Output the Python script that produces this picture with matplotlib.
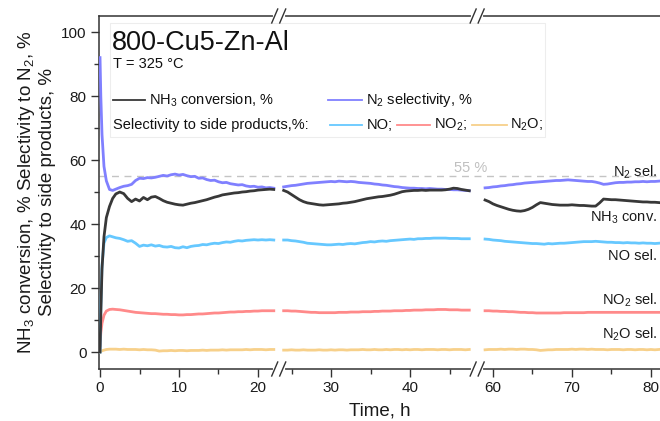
import numpy as np
import matplotlib.pyplot as plt
from matplotlib.patches import Rectangle

plt.rcParams['font.family'] = ['Liberation Sans', 'DejaVu Sans']
plt.rcParams['mathtext.fontset'] = 'custom'
plt.rcParams['mathtext.rm'] = 'Liberation Sans'
plt.rcParams['mathtext.it'] = 'Liberation Sans:italic'
plt.rcParams['mathtext.default'] = 'regular'

# time, h (three measured segments)
t1 = [0, 0.1, 0.25, 0.5, 0.8, 1.2, 1.6, 2.0, 2.5, 3.0, 3.5, 4.0, 4.5, 5.0, 5.5, 6.0,
      6.5, 7.0, 7.5, 8.0, 8.5, 9.0, 9.5, 10.0, 10.5, 11.0, 11.5, 12.0, 12.5, 13.0, 13.5,
      14.0, 14.5, 15.0, 15.5, 16.0, 16.5, 17.0, 17.5, 18.0, 18.5, 19.0, 19.5, 20.0, 20.5,
      21.0, 21.5, 22.0]
t2 = [24.0, 24.5, 25.0, 25.5, 26.0, 26.5, 27.0, 27.5, 28.0, 28.5, 29.0, 29.5, 30.0, 30.5,
      31.0, 31.5, 32.0, 32.5, 33.0, 33.5, 34.0, 34.5, 35.0, 35.5, 36.0, 36.5, 37.0, 37.5,
      38.0, 38.5, 39.0, 39.5, 40.0, 40.5, 41.0, 41.5, 42.0, 42.5, 43.0, 43.5, 44.0, 44.5,
      45.0, 45.5, 46.0, 46.5, 47.0, 47.5]
t3 = [59.0, 59.5, 60.0, 60.5, 61.0, 61.5, 62.0, 62.5, 63.0, 63.5, 64.0, 64.5, 65.0, 65.5,
      66.0, 66.5, 67.0, 67.5, 68.0, 68.5, 69.0, 69.5, 70.0, 70.5, 71.0, 71.5, 72.0, 72.5,
      73.0, 73.5, 74.0, 74.5, 75.0, 75.5, 76.0, 76.5, 77.0, 77.5, 78.0, 78.5, 79.0, 79.5,
      80.0, 80.5, 81.0]

# N2 selectivity, %
n2_1 = [92, 80, 68, 58, 53.5, 50.8, 50.5, 50.9, 51.4, 51.8, 52.0, 52.4, 53.6, 54.3, 54.2,
        54.5, 54.4, 54.6, 54.9, 55.2, 55.0, 55.4, 55.6, 55.3, 55.5, 55.1, 54.8, 54.9, 54.3,
        54.4, 53.9, 53.6, 53.7, 53.2, 52.9, 53.0, 52.6, 52.4, 52.2, 52.3, 51.9, 51.7, 51.8,
        51.5, 51.6, 51.3, 51.4, 51.2]
n2_2 = [51.6, 51.8, 52.0, 52.1, 52.3, 52.5, 52.7, 52.8, 52.9, 53.0, 53.1, 53.2, 53.3, 53.2,
        53.4, 53.3, 53.2, 53.3, 53.2, 53.0, 52.9, 52.8, 52.7, 52.5, 52.4, 52.2, 52.1, 51.9,
        51.7, 51.6, 51.4, 51.3, 51.2, 51.2, 51.1, 51.1, 51.0, 51.1, 51.0, 50.9, 50.9, 50.8,
        50.8, 50.7, 50.7, 50.6, 50.5, 50.4]
n2_3 = [51.3, 51.4, 51.6, 51.7, 51.9, 52.0, 52.2, 52.3, 52.5, 52.6, 52.8, 52.9, 53.0, 53.1,
        53.2, 53.3, 53.4, 53.5, 53.6, 53.6, 53.7, 53.8, 53.7, 53.6, 53.5, 53.4, 53.3, 53.3,
        53.1, 52.8, 52.4, 52.5, 52.7, 52.9, 53.0, 53.0, 53.1, 53.1, 53.2, 53.2, 53.3, 53.2,
        53.3, 53.3, 53.4]

# NH3 conversion, %
nh3_1 = [0, 12, 26, 36, 42, 45.5, 48, 49.4, 50.0, 49.5, 48, 47, 47.8, 47.2, 48.3, 47.6,
         48.4, 48.6, 48.0, 47.3, 46.8, 46.5, 46.2, 46.0, 45.9, 46.2, 46.5, 46.7, 47.0, 47.3,
         47.6, 48.0, 48.4, 48.7, 49.1, 49.3, 49.5, 49.7, 49.8, 50.0, 50.1, 50.3, 50.4, 50.6,
         50.7, 50.8, 50.9, 50.8]
nh3_2 = [50.5, 50.0, 49.2, 48.4, 47.6, 47.0, 46.6, 46.4, 46.2, 46.0, 45.9, 46.0, 46.1, 46.2,
         46.3, 46.5, 46.6, 46.8, 47.0, 47.3, 47.6, 47.9, 48.1, 48.3, 48.5, 48.6, 48.8, 49.0,
         49.3, 49.7, 50.1, 50.3, 50.4, 50.5, 50.5, 50.6, 50.5, 50.6, 50.6, 50.6, 50.6, 50.7,
         50.9, 51.2, 51.1, 50.8, 50.6, 50.4]
nh3_3 = [47.5, 47.0, 46.3, 45.8, 45.4, 45.0, 44.6, 44.3, 44.1, 44.0, 44.2, 44.6, 45.2, 46.0,
         46.7, 46.5, 46.3, 46.1, 46.0, 45.9, 45.9, 45.9, 46.0, 45.9, 45.8, 45.8, 45.7, 45.6,
         45.6, 46.6, 47.8, 47.7, 47.6, 47.6, 47.5, 47.4, 47.3, 47.2, 47.1, 47.0, 46.9, 46.9,
         46.8, 46.8, 46.7]

# NO selectivity, %
no_1 = [0, 14, 27, 34, 35.8, 36.3, 36.0, 35.7, 35.5, 35.1, 34.6, 34.8, 34.0, 33.0, 33.4,
        33.2, 33.5, 33.1, 33.3, 32.9, 32.8, 33.0, 32.6, 32.5, 32.9, 32.6, 33.0, 33.2, 33.3,
        33.6, 33.5, 33.8, 34.0, 33.9, 34.2, 34.4, 34.3, 34.6, 34.8, 34.7, 34.9, 35.0, 35.1,
        35.0, 35.1, 35.0, 35.1, 35.0]
no_2 = [35.0, 35.0, 34.8, 34.7, 34.5, 34.3, 34.0, 33.9, 33.8, 33.7, 33.6, 33.5, 33.5, 33.6,
        33.7, 33.6, 33.8, 33.9, 33.8, 34.0, 34.2, 34.3, 34.5, 34.4, 34.6, 34.7, 34.6, 34.8,
        34.9, 35.0, 35.1, 35.2, 35.3, 35.2, 35.4, 35.4, 35.5, 35.5, 35.6, 35.6, 35.6, 35.6,
        35.5, 35.5, 35.5, 35.4, 35.4, 35.4]
no_3 = [35.3, 35.2, 35.0, 34.9, 34.8, 34.6, 34.5, 34.4, 34.3, 34.2, 34.1, 34.0, 33.9, 33.9,
        33.8, 33.7, 33.9, 33.8, 33.9, 34.0, 34.0, 34.1, 34.2, 34.3, 34.4, 34.5, 34.5, 34.5,
        34.6, 34.5, 34.4, 34.3, 34.3, 34.2, 34.2, 34.1, 34.2, 34.1, 34.1, 34.0, 34.1, 34.0,
        34.0, 33.9, 34.0]

# NO2 selectivity, %
no2_1 = [2, 6, 9, 11.5, 12.8, 13.3, 13.4, 13.3, 13.2, 13.0, 12.8, 12.6, 12.4, 12.3, 12.2,
         12.1, 12.0, 12.0, 11.9, 11.8, 11.8, 11.7, 11.7, 11.6, 11.6, 11.7, 11.7, 11.8, 11.9,
         11.9, 12.0, 12.1, 12.2, 12.2, 12.3, 12.4, 12.5, 12.5, 12.6, 12.6, 12.7, 12.7, 12.8,
         12.8, 12.9, 12.9, 12.9, 12.9]
no2_2 = [12.9, 12.9, 12.8, 12.8, 12.7, 12.6, 12.5, 12.4, 12.4, 12.3, 12.3, 12.3, 12.3, 12.3,
         12.4, 12.4, 12.4, 12.5, 12.5, 12.5, 12.6, 12.6, 12.6, 12.7, 12.7, 12.8, 12.8, 12.8,
         12.9, 12.9, 12.9, 13.0, 13.0, 13.1, 13.1, 13.1, 13.2, 13.2, 13.2, 13.3, 13.3, 13.3,
         13.2, 13.2, 13.2, 13.1, 13.1, 13.1]
no2_3 = [12.9, 12.9, 12.8, 12.8, 12.7, 12.7, 12.6, 12.6, 12.5, 12.4, 12.4, 12.3, 12.3, 12.2,
         12.2, 12.2, 12.2, 12.2, 12.2, 12.2, 12.3, 12.3, 12.3, 12.3, 12.3, 12.3, 12.4, 12.4,
         12.4, 12.4, 12.4, 12.4, 12.4, 12.4, 12.4, 12.4, 12.4, 12.4, 12.4, 12.4, 12.4, 12.4,
         12.4, 12.4, 12.4]

# N2O selectivity, %
n2o_1 = [0.0, 0.2, 0.4, 0.6, 0.8, 0.9, 0.9, 0.9, 0.8, 0.9, 0.8, 0.8, 0.8, 0.7, 0.8, 0.7,
         0.7, 0.6, 0.3, 0.4, 0.4, 0.5, 0.4, 0.5, 0.5, 0.4, 0.5, 0.5, 0.5, 0.6, 0.5, 0.6,
         0.6, 0.6, 0.7, 0.6, 0.7, 0.7, 0.7, 0.7, 0.8, 0.7, 0.8, 0.8, 0.8, 0.7, 0.8, 0.8]
n2o_2 = [0.6, 0.6, 0.7, 0.6, 0.6, 0.7, 0.6, 0.6, 0.6, 0.7, 0.6, 0.6, 0.7, 0.6, 0.7, 0.7,
         0.6, 0.7, 0.7, 0.7, 0.8, 0.7, 0.7, 0.8, 0.7, 0.7, 0.8, 0.7, 0.8, 0.8, 0.7, 0.8,
         0.7, 0.8, 0.8, 0.7, 0.8, 0.8, 0.8, 0.7, 0.8, 0.8, 0.7, 0.8, 0.8, 0.8, 0.7, 0.8]
n2o_3 = [0.7, 0.8, 0.8, 0.8, 0.9, 0.8, 0.9, 0.9, 0.8, 0.9, 0.9, 0.8, 0.8, 0.7, 0.5, 0.6,
         0.7, 0.7, 0.8, 0.8, 0.8, 0.8, 0.9, 0.8, 0.9, 0.9, 0.8, 0.9, 0.8, 0.8, 0.8, 0.7,
         0.8, 0.8, 0.8, 0.7, 0.8, 0.8, 0.7, 0.8, 0.8, 0.7, 0.8, 0.7, 0.8]

x_major = [0, 10, 20, 30, 40, 60, 70, 80]
x_minor = [5, 15, 25, 35, 45, 65, 75]
breaks = [23.0, 53.25]

# broken time axis: gaps 22.5-23.5 and 48-58.5 are squeezed
T_KNOTS = [-50, 22.5, 23.5, 48.0, 58.5, 150]
U_KNOTS = [-50, 22.5, 22.75, 47.25, 48.25, 139.75]


def fwd(t):
    return np.interp(t, T_KNOTS, U_KNOTS)


def inv(u):
    return np.interp(u, U_KNOTS, T_KNOTS)


fig = plt.figure(figsize=(6.6, 4.21), dpi=100)
ax = fig.add_axes([99 / 660, 1 - 369 / 421, 561 / 660, 353 / 421])
ax.set_xscale('function', functions=(fwd, inv))
ax.set_xlim(-0.13, 81.15)
ax.set_ylim(-5.3, 105)


def px(x):
    return (x - 99) / 561


def py(y):
    return (369 - y) / 353


series = [
    ([n2o_1, n2o_2, n2o_3], '#f7d08a'),
    ([no2_1, no2_2, no2_3], '#ff8a8a'),
    ([no_1, no_2, no_3], '#66c8ff'),
    ([n2_1, n2_2, n2_3], '#8080ff'),
    ([nh3_1, nh3_2, nh3_3], '#383838'),
]
for segs, col in series:
    for tt, vv in zip([t1, t2, t3], segs):
        ax.plot(tt, vv, color=col, lw=2.0, solid_joinstyle='round', zorder=3)

ax.axhline(55, color='#c4c4c4', lw=1, ls=(0, (5, 4)), zorder=2)
ax.text(47.7, 57.5, '55 %', color='#c0c0c0', fontsize=10.5, ha='center', va='center')

# right-side labels
right = [(56.2, 'N$_2$ sel.'), (42.0, 'NH$_3$ conv.'), (30.0, 'NO sel.'),
         (16.2, 'NO$_2$ sel.'), (5.6, 'N$_2$O sel.')]
for yv, lab in right:
    ax.text(0.995, yv, lab, transform=ax.get_yaxis_transform(), ha='right',
            va='center', fontsize=10.5, color='#1a1a1a')

# title block and legend
ax.add_patch(Rectangle((px(110), py(137)), px(545) - px(110), py(23) - py(137),
                       transform=ax.transAxes, fill=False, ec='#ededed', lw=0.8))
ax.text(px(112), py(43), '800-Cu5-Zn-Al', transform=ax.transAxes, fontsize=19.5,
        va='center', color='#111111')
ax.text(px(113), py(64), 'T = 325 °C', transform=ax.transAxes, fontsize=10.5,
        va='center', color='#111111')

leg = [
    (113, 145, 149, 100, '#383838', 'NH$_3$ conversion, %'),
    (328, 362, 366, 100, '#8080ff', 'N$_2$ selectivity, %'),
    (330, 362, 367, 125, '#66c8ff', 'NO;'),
    (397, 430, 434, 125, '#ff8a8a', 'NO$_2$;'),
    (472, 507, 510, 125, '#f7d08a', 'N$_2$O;'),
]
for x0, x1, xt, yy, col, lab in leg:
    ax.plot([px(x0), px(x1)], [py(yy), py(yy)], transform=ax.transAxes, color=col, lw=1.3)
    ax.text(px(xt), py(yy), lab, transform=ax.transAxes, fontsize=10.5, va='center',
            color='#111111')
ax.text(px(113), py(125), 'Selectivity to side products,%:', transform=ax.transAxes,
        fontsize=10.5, va='center', color='#111111')

# axes styling
for s in ['left', 'bottom', 'top']:
    ax.spines[s].set_color('#333333')
    ax.spines[s].set_linewidth(1.1)
ax.spines['right'].set_visible(False)

ax.set_xticks(x_major)
ax.set_xticks(x_minor, minor=True)
ax.set_yticks([0, 20, 40, 60, 80, 100])
ax.set_yticks([10, 30, 50, 70, 90], minor=True)
ax.tick_params(which='both', direction='out', color='#333333', width=1,
               labelsize=11, labelcolor='#1a1a1a', pad=3, top=False, right=False)
ax.tick_params(which='major', length=6)
ax.tick_params(which='minor', length=3.5)

ax.set_xlabel('Time, h', fontsize=13.5, labelpad=5, color='#1a1a1a')
ax.set_ylabel('NH$_3$ conversion, % Selectivity to N$_2$, %\nSelectivity to side products, %',
              fontsize=13.5, color='#1a1a1a', linespacing=1.15)
ax.yaxis.set_label_coords(px(56), 0.5)

# break marks on top and bottom axes
u0, u1 = fwd(-0.13), fwd(81.15)
for tb in breaks:
    bx = (fwd(tb) - u0) / (u1 - u0)
    for yb in [0, 1]:
        ax.plot([bx - 4 / 561, bx + 4 / 561], [yb, yb], transform=ax.transAxes,
                color='white', lw=3, clip_on=False, zorder=6)
        for c in [bx - 4 / 561, bx + 4 / 561]:
            ax.plot([c - 3 / 561, c + 3 / 561], [yb - 7 / 353, yb + 7 / 353],
                    transform=ax.transAxes, color='#333333', lw=1, clip_on=False, zorder=7)

fig.savefig('out.png', dpi=100)
